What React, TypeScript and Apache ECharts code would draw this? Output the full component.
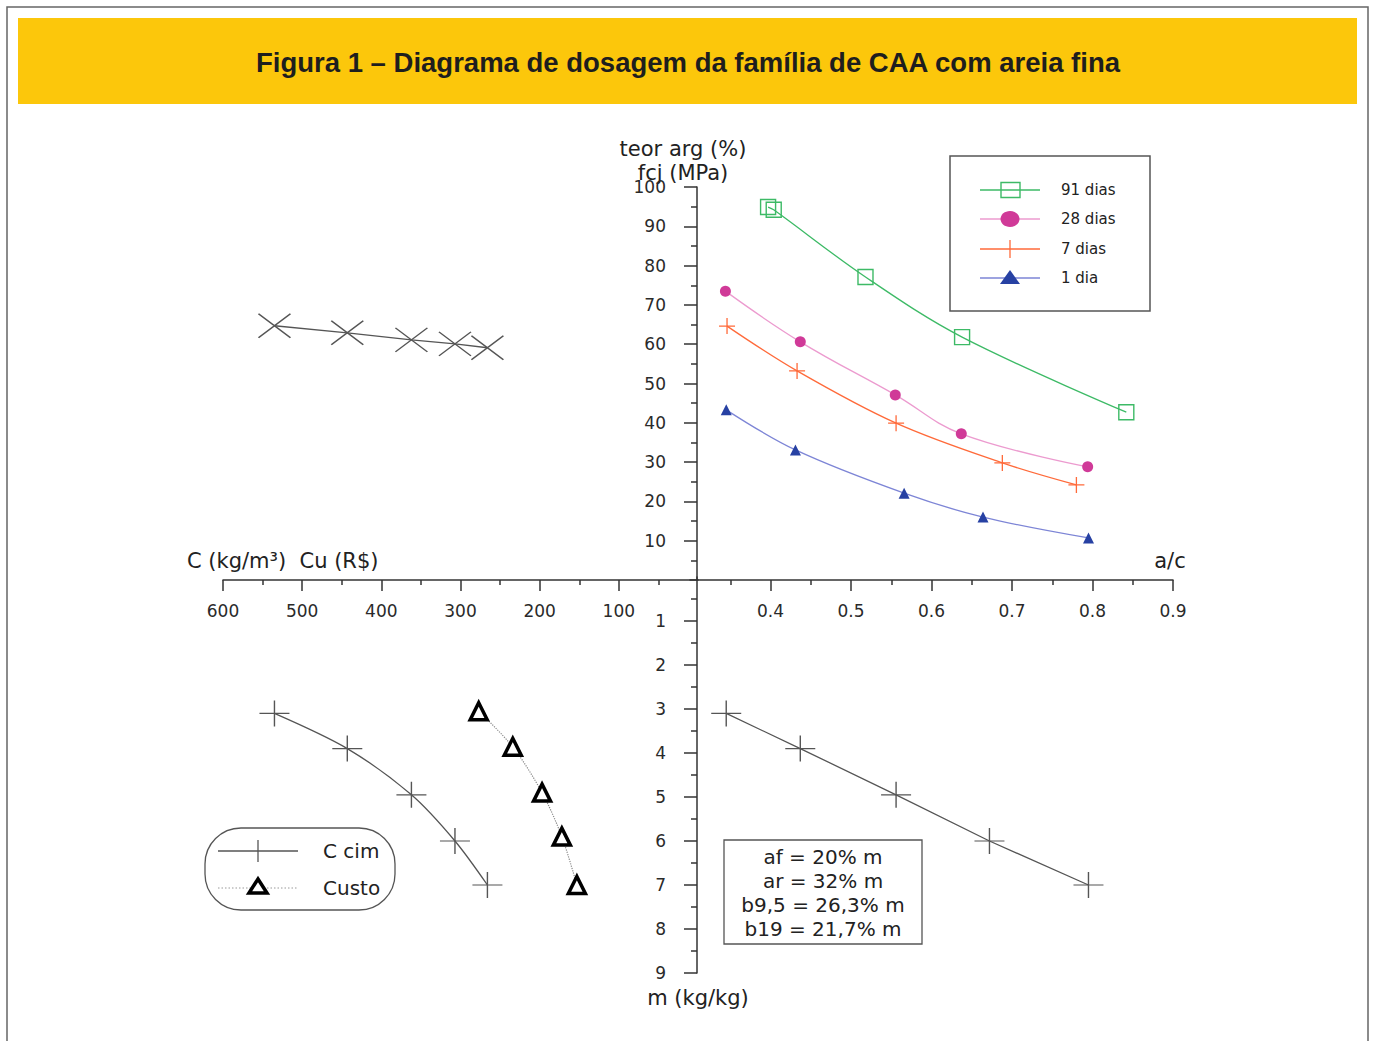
import React, { useEffect, useRef } from "react";
import * as echarts from "echarts";

// ---- data ----
const ac91 = [0.397, 0.404, 0.518, 0.638, 0.842];
const fc91 = [94.9, 94.2, 77.1, 61.8, 42.7];
const ac28 = [0.344, 0.437, 0.555, 0.637, 0.794];
const fc28 = [73.5, 60.6, 47.1, 37.2, 28.8];
const ac7 = [0.346, 0.433, 0.556, 0.688, 0.78];
const fc7 = [64.6, 53.2, 39.9, 29.8, 24.2];
const ac1 = [0.345, 0.431, 0.566, 0.664, 0.795];
const fc1 = [43.3, 33.1, 22.1, 16.0, 10.7];

const cCim = [535, 443, 362, 307, 266];
const teorArg = [64.7, 62.9, 61.1, 60.1, 59.1];
const mCim = [3.1, 3.9, 4.95, 6.0, 7.0];
const custo = [277, 234, 197, 172, 153];
const mCusto = [3.05, 3.86, 4.9, 5.9, 7.0];
const acM = [0.345, 0.437, 0.556, 0.672, 0.795];
const mAc = [3.1, 3.9, 4.95, 6.0, 7.0];

const acTicks = [0.4, 0.5, 0.6, 0.7, 0.8, 0.9];
const acMinor = [0.35, 0.45, 0.55, 0.65, 0.75, 0.85];
const cTicks = [100, 200, 300, 400, 500, 600];
const cMinor = [50, 150, 250, 350, 450, 550];
const fcTicks = [10, 20, 30, 40, 50, 60, 70, 80, 90, 100];
const fcMinor = [5, 15, 25, 35, 45, 55, 65, 75, 85, 95];
const mTicks = [1, 2, 3, 4, 5, 6, 7, 8, 9];
const mMinor = [0.5, 1.5, 2.5, 3.5, 4.5, 5.5, 6.5, 7.5, 8.5];

const legendTop = ["91 dias", "28 dias", "7 dias", "1 dia"];
const legendBottom = ["C cim", "Custo"];
const noteLines = ["af = 20% m", "ar = 32% m", "b9,5 = 26,3% m", "b19 = 21,7% m"];

const zip = (a: number[], b: number[]) => a.map((v, i) => [v, b[i]]);

const FONT = "DejaVu Sans, Verdana, sans-serif";
const TFONT = "Liberation Sans, Arial, sans-serif";
const AX = "#333";
const PLUS = "path://M15,0L15,26M0,13L30,13";
const PLUS_S = "path://M8,0L8,16M0,8L16,8";
const XMARK = "path://M0,0L32,24M32,0L0,24";

const G91 = "#3dba66";
const P28L = "#ec9bcf";
const P28M = "#d03a98";
const O7 = "#ff6a3a";
const B1L = "#7d85d6";
const B1M = "#2741a3";

function txt(x: number, y: number, text: string, size: number, align = "left", extra: any = {}) {
  return {
    type: "text",
    x,
    y,
    silent: true,
    style: {
      text,
      font: `${extra.weight || "normal"} ${size}px ${extra.family || FONT}`,
      fill: extra.fill || "#222",
      align,
      textAlign: align,
      verticalAlign: "middle",
      textVerticalAlign: "middle",
    },
  };
}

export default function App() {
  const ref = useRef<HTMLDivElement>(null);
  useEffect(() => {
    document.body.style.margin = "0";
    const chart = echarts.init(ref.current!, null, { renderer: "svg" });

    const labelStyle = { fontFamily: FONT, fontSize: 17, color: "#2a2a2a" };
    const axLine = { show: true, lineStyle: { color: AX, width: 1.5 } };

    const option: any = {
      animation: false,
      backgroundColor: "#fff",
      grid: [
        { left: 690, width: 483, top: 187, height: 393 },
        { left: 223, width: 475, top: 187, height: 393 },
        { left: 223, width: 475, top: 577, height: 396 },
        { left: 690, width: 483, top: 577, height: 396 },
      ],
      xAxis: [
        {
          gridIndex: 0, type: "value", min: 0.3, max: 0.9, position: "bottom",
          axisLine: axLine, splitLine: { show: false },
          axisTick: { show: true, length: 11, customValues: acTicks, lineStyle: { color: AX, width: 1.5 } },
          axisLabel: { show: true, customValues: acTicks, margin: 22, ...labelStyle, formatter: (v: number) => v.toFixed(1) },
        },
        {
          gridIndex: 1, type: "value", min: 0, max: 600, inverse: true, position: "bottom",
          axisLine: axLine, splitLine: { show: false },
          axisTick: { show: true, length: 11, customValues: cTicks, lineStyle: { color: AX, width: 1.5 } },
          axisLabel: { show: true, customValues: cTicks, margin: 22, ...labelStyle },
        },
        { gridIndex: 2, type: "value", min: 0, max: 600, inverse: true, show: false },
        { gridIndex: 3, type: "value", min: 0.3, max: 0.9, show: false },
        {
          gridIndex: 0, type: "value", min: 0.3, max: 0.9, position: "bottom",
          axisLine: { show: false }, splitLine: { show: false }, axisLabel: { show: false },
          axisTick: { show: true, length: 5, customValues: acMinor, lineStyle: { color: AX, width: 1.5 } },
        },
        {
          gridIndex: 1, type: "value", min: 0, max: 600, inverse: true, position: "bottom",
          axisLine: { show: false }, splitLine: { show: false }, axisLabel: { show: false },
          axisTick: { show: true, length: 5, customValues: cMinor, lineStyle: { color: AX, width: 1.5 } },
        },
      ],
      yAxis: [
        {
          gridIndex: 0, type: "value", min: 0, max: 100, position: "left", offset: -7,
          axisLine: axLine, splitLine: { show: false },
          axisTick: { show: true, length: 13, customValues: fcTicks, lineStyle: { color: AX, width: 1.5 } },
          axisLabel: { show: true, customValues: fcTicks, margin: 31, ...labelStyle },
        },
        { gridIndex: 1, type: "value", min: 0, max: 100, show: false },
        { gridIndex: 2, type: "value", min: 0, max: 9, inverse: true, show: false },
        {
          gridIndex: 3, type: "value", min: 0, max: 9, inverse: true, position: "left", offset: -7,
          axisLine: axLine, splitLine: { show: false },
          axisTick: { show: true, length: 13, customValues: mTicks, lineStyle: { color: AX, width: 1.5 } },
          axisLabel: { show: true, customValues: mTicks, margin: 31, ...labelStyle },
        },
        {
          gridIndex: 0, type: "value", min: 0, max: 100, position: "left", offset: -7,
          axisLine: { show: false }, splitLine: { show: false }, axisLabel: { show: false },
          axisTick: { show: true, length: 6, customValues: fcMinor, lineStyle: { color: AX, width: 1.5 } },
        },
        {
          gridIndex: 3, type: "value", min: 0, max: 9, inverse: true, position: "left", offset: -7,
          axisLine: { show: false }, splitLine: { show: false }, axisLabel: { show: false },
          axisTick: { show: true, length: 6, customValues: mMinor, lineStyle: { color: AX, width: 1.5 } },
        },
      ],
      series: [
        {
          name: legendTop[0], type: "line", xAxisIndex: 0, yAxisIndex: 0, data: zip(ac91, fc91),
          smooth: 0.35, symbol: "rect", symbolSize: 15,
          itemStyle: { color: "rgba(0,0,0,0)", borderColor: G91, borderWidth: 1.4 },
          lineStyle: { color: G91, width: 1.3 },
        },
        {
          name: legendTop[1], type: "line", xAxisIndex: 0, yAxisIndex: 0, data: zip(ac28, fc28),
          smooth: 0.4, symbol: "circle", symbolSize: 11,
          itemStyle: { color: P28M, borderWidth: 0 },
          lineStyle: { color: P28L, width: 1.3 },
        },
        {
          name: legendTop[2], type: "line", xAxisIndex: 0, yAxisIndex: 0, data: zip(ac7, fc7),
          smooth: 0.35, symbol: PLUS_S, symbolSize: 16,
          itemStyle: { color: "none", borderColor: O7, borderWidth: 1.3 },
          lineStyle: { color: O7, width: 1.3 },
        },
        {
          name: legendTop[3], type: "line", xAxisIndex: 0, yAxisIndex: 0, data: zip(ac1, fc1),
          smooth: 0.35, symbol: "triangle", symbolSize: 11,
          itemStyle: { color: B1M, borderWidth: 0 },
          lineStyle: { color: B1L, width: 1.3 },
        },
        {
          name: "teor arg", type: "line", xAxisIndex: 1, yAxisIndex: 1, data: zip(cCim, teorArg),
          smooth: false, symbol: XMARK, symbolSize: [32, 24],
          itemStyle: { color: "none", borderColor: "#555", borderWidth: 1.4 },
          lineStyle: { color: "#555", width: 1.3 },
        },
        {
          name: legendBottom[0], type: "line", xAxisIndex: 2, yAxisIndex: 2, data: zip(cCim, mCim),
          smooth: 0.3, symbol: PLUS, symbolSize: [30, 26],
          itemStyle: { color: "none", borderColor: "#555", borderWidth: 1.3 },
          lineStyle: { color: "#555", width: 1.3 },
        },
        {
          name: legendBottom[1], type: "line", xAxisIndex: 2, yAxisIndex: 2, data: zip(custo, mCusto),
          smooth: 0.3, symbol: "triangle", symbolSize: 17,
          itemStyle: { color: "#fff", borderColor: "#000", borderWidth: 3.5 },
          lineStyle: { color: "#888", width: 1.2, type: "dotted" },
        },
        {
          name: "C cim a/c", type: "line", xAxisIndex: 3, yAxisIndex: 3, data: zip(acM, mAc),
          smooth: false, symbol: PLUS, symbolSize: [30, 26],
          itemStyle: { color: "none", borderColor: "#555", borderWidth: 1.3 },
          lineStyle: { color: "#555", width: 1.3 },
        },
      ],
      graphic: [
        // frame
        { type: "rect", silent: true, shape: { x: 7, y: 7, width: 1361, height: 1045 }, style: { fill: "none", stroke: "#666", lineWidth: 1.5 } },
        // title band
        { type: "rect", silent: true, shape: { x: 18, y: 18, width: 1339, height: 86 }, style: { fill: "#fcc70b" } },
        txt(688, 62, "Figura 1 – Diagrama de dosagem da família de CAA com areia fina", 27.5, "center", { fill: "#1e1e1e", weight: "bold", family: TFONT }),
        // axis names
        txt(683, 149, "teor arg (%)", 21, "center"),
        txt(683, 173, "fcj (MPa)", 21, "center"),
        txt(1170, 561, "a/c", 21, "center"),
        txt(187, 561, "C (kg/m³)  Cu (R$)", 21, "left"),
        txt(698, 998, "m (kg/kg)", 21, "center"),
        // top-right legend
        { type: "rect", silent: true, shape: { x: 950, y: 156, width: 200, height: 155 }, style: { fill: "none", stroke: "#555", lineWidth: 1.5 } },
        { type: "line", silent: true, shape: { x1: 980, y1: 190, x2: 1040, y2: 190 }, style: { stroke: G91, lineWidth: 1.3 } },
        { type: "rect", silent: true, shape: { x: 1001, y: 182.5, width: 19, height: 15 }, style: { fill: "none", stroke: G91, lineWidth: 1.4 } },
        txt(1061, 190, legendTop[0], 15, "left"),
        { type: "line", silent: true, shape: { x1: 980, y1: 219, x2: 1040, y2: 219 }, style: { stroke: P28L, lineWidth: 1.3 } },
        { type: "ellipse", silent: true, shape: { cx: 1010, cy: 219, rx: 9.5, ry: 8 }, style: { fill: P28M } },
        txt(1061, 219, legendTop[1], 15, "left"),
        { type: "line", silent: true, shape: { x1: 980, y1: 249, x2: 1040, y2: 249 }, style: { stroke: O7, lineWidth: 1.3 } },
        { type: "line", silent: true, shape: { x1: 1010, y1: 240, x2: 1010, y2: 258 }, style: { stroke: O7, lineWidth: 1.3 } },
        txt(1061, 249, legendTop[2], 15, "left"),
        { type: "line", silent: true, shape: { x1: 980, y1: 278, x2: 1040, y2: 278 }, style: { stroke: B1L, lineWidth: 1.3 } },
        { type: "polygon", silent: true, shape: { points: [[1000, 284], [1020, 284], [1010, 270]] }, style: { fill: B1M } },
        txt(1061, 278, legendTop[3], 15, "left"),
        // bottom-left legend
        { type: "rect", silent: true, shape: { x: 205, y: 828, width: 190, height: 82, r: 36 }, style: { fill: "none", stroke: "#555", lineWidth: 1.3 } },
        { type: "line", silent: true, shape: { x1: 218, y1: 851, x2: 298, y2: 851 }, style: { stroke: "#555", lineWidth: 1.3 } },
        { type: "line", silent: true, shape: { x1: 258, y1: 840, x2: 258, y2: 862 }, style: { stroke: "#555", lineWidth: 1.3 } },
        txt(323, 851, legendBottom[0], 20, "left"),
        { type: "line", silent: true, shape: { x1: 218, y1: 888, x2: 298, y2: 888 }, style: { stroke: "#999", lineWidth: 1, lineDash: [1.5, 2] } },
        { type: "polygon", silent: true, shape: { points: [[249, 893], [267, 893], [258, 879]] }, style: { fill: "#fff", stroke: "#000", lineWidth: 3.5 } },
        txt(323, 888, legendBottom[1], 20, "left"),
        // note box
        { type: "rect", silent: true, shape: { x: 724, y: 840, width: 198, height: 104 }, style: { fill: "#fff", stroke: "#555", lineWidth: 1.3 } },
        ...noteLines.map((t, i) => txt(823, 857 + i * 24, t, 20, "center")),
      ],
    };
    chart.setOption(option);
    return () => chart.dispose();
  }, []);
  return <div ref={ref} style={{ width: 1373, height: 1041, background: "#fff" }} />;
}
